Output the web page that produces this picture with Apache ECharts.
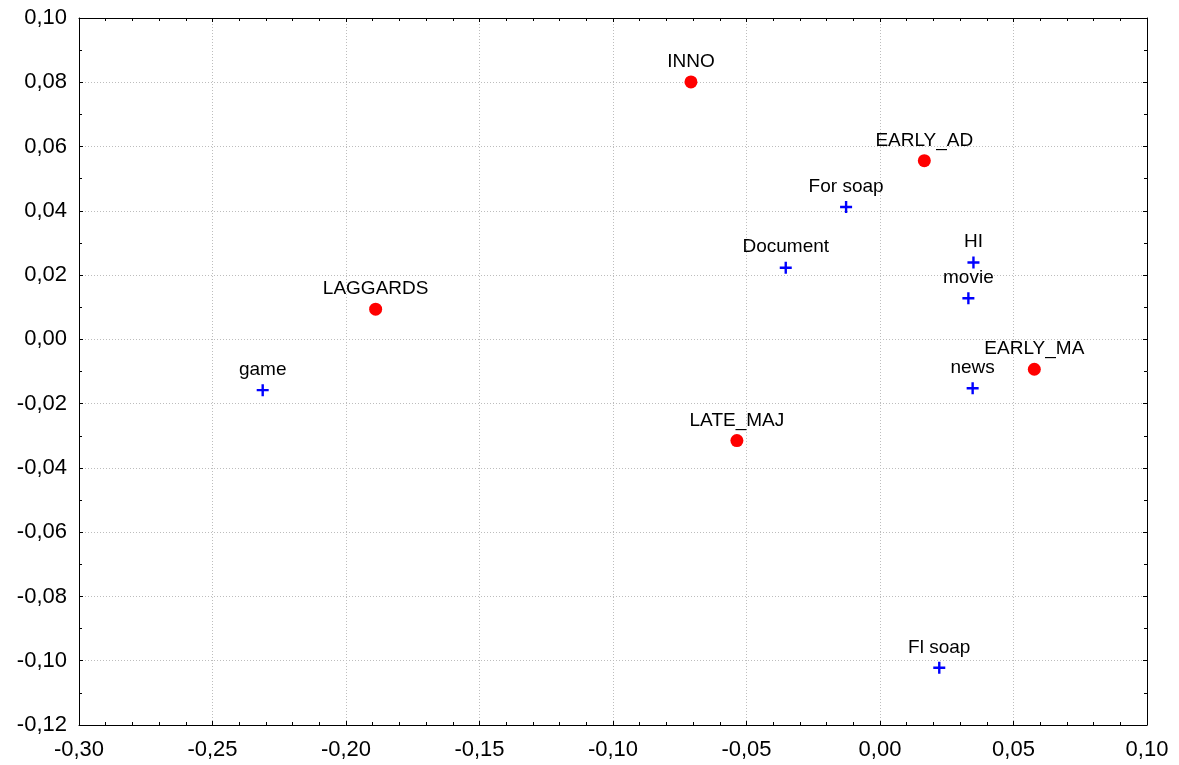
<!DOCTYPE html>
<html>
<head>
<meta charset="utf-8">
<style>
  html, body { margin: 0; padding: 0; background: #fff; }
  #chart { width: 1179px; height: 765px; }
</style>
<script src="https://cdn.jsdelivr.net/npm/echarts@6/dist/echarts.min.js"></script>
</head>
<body>
<div id="chart"></div>
<script>
// Adopter groups (red dots)
const groupNames = ['INNO', 'EARLY_AD', 'EARLY_MA', 'LATE_MAJ', 'LAGGARDS'];
const groupX = [-0.0708, 0.0166, 0.0578, -0.0536, -0.1889];
const groupY = [0.0801, 0.0556, -0.0093, -0.0315, 0.0094];

// Programme genres (blue crosses)
const genreNames = ['For soap', 'Document', 'HI', 'movie', 'news', 'game', 'Fl soap'];
const genreX = [-0.0127, -0.0353, 0.0350, 0.0331, 0.0347, -0.2312, 0.0222];
const genreY = [0.0412, 0.0223, 0.0239, 0.0128, -0.0152, -0.0158, -0.1022];

// Axis ranges
const xMin = -0.30, xMax = 0.10, xStep = 0.05;
const yMin = -0.12, yMax = 0.10, yStep = 0.02;

const FONT = '"Liberation Sans", Arial, sans-serif';

function fmt(v) {
  if (Math.abs(v) < 1e-9) v = 0;
  return v.toFixed(2).replace('.', ',');
}

function pts(names, xs, ys) {
  return names.map((n, i) => ({ name: n, value: [xs[i], ys[i]] }));
}

const plusPath = 'path://M4.8,0H7.2V4.8H12V7.2H7.2V12H4.8V7.2H0V4.8H4.8Z';

const gridLine = { show: true, lineStyle: { color: '#bdbdbd', type: [1, 2], width: 1 } };

const baseAxis = {
  axisLine: { show: true, onZero: false, lineStyle: { color: '#000', width: 1 } },
  axisTick: { show: true, inside: true, length: 4, lineStyle: { color: '#000' } },
  minorTick: { show: true, splitNumber: 5, length: 3, lineStyle: { color: '#000' } },
};

const pointLabel = {
  show: true, position: 'top',
  formatter: p => p.name,
  fontSize: 19, color: '#000', opacity: 1, fontFamily: FONT,
};

const chart = echarts.init(document.getElementById('chart'), null, { renderer: 'canvas' });

chart.setOption({
  animation: false,
  backgroundColor: '#fff',
  grid: { left: 79, right: 32, top: 18, bottom: 40, show: false },
  xAxis: [
    Object.assign({}, baseAxis, {
      type: 'value', min: xMin, max: xMax, interval: xStep, position: 'bottom',
      axisLabel: { formatter: fmt, fontSize: 22, color: '#000', fontFamily: FONT, margin: 14 },
      splitLine: gridLine,
    }),
    Object.assign({}, baseAxis, {
      type: 'value', min: xMin, max: xMax, interval: xStep, position: 'top',
      axisLabel: { show: false }, splitLine: { show: false },
    }),
  ],
  yAxis: [
    Object.assign({}, baseAxis, {
      type: 'value', min: yMin, max: yMax, interval: yStep, position: 'left',
      minorTick: { show: true, splitNumber: 2, length: 3, lineStyle: { color: '#000' } },
      axisLabel: { formatter: fmt, fontSize: 22, color: '#000', fontFamily: FONT, margin: 12 },
      splitLine: gridLine,
    }),
    Object.assign({}, baseAxis, {
      type: 'value', min: yMin, max: yMax, interval: yStep, position: 'right',
      minorTick: { show: true, splitNumber: 2, length: 3, lineStyle: { color: '#000' } },
      axisLabel: { show: false }, splitLine: { show: false },
    }),
  ],
  series: [
    {
      name: 'Groups',
      type: 'scatter',
      xAxisIndex: 0, yAxisIndex: 0,
      symbol: 'circle',
      symbolSize: 13,
      itemStyle: { color: '#ff0000', opacity: 1 },
      label: Object.assign({}, pointLabel, { distance: 4 }),
      data: pts(groupNames, groupX, groupY),
    },
    {
      name: 'Genres',
      type: 'scatter',
      xAxisIndex: 0, yAxisIndex: 0,
      symbol: plusPath,
      symbolSize: 12,
      itemStyle: { color: '#0000ff', opacity: 1 },
      label: Object.assign({}, pointLabel, { distance: 5 }),
      data: pts(genreNames, genreX, genreY),
    },
  ],
});
</script>
</body>
</html>
